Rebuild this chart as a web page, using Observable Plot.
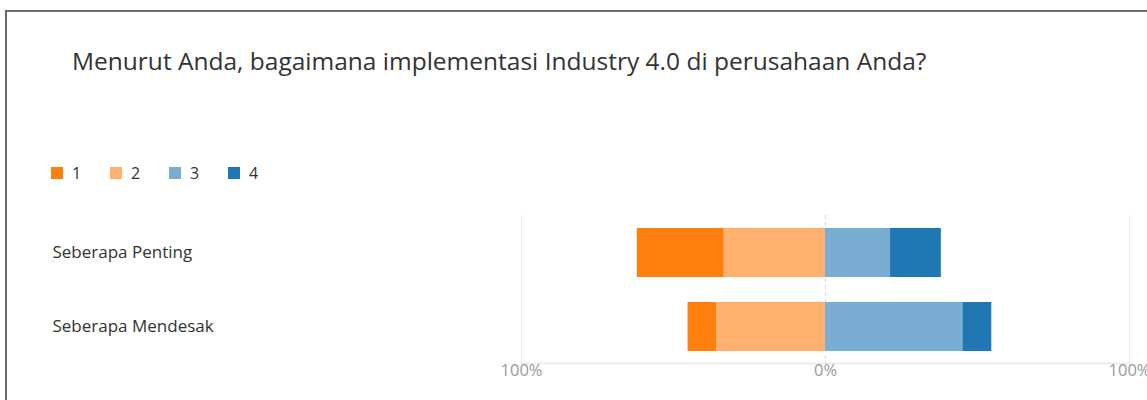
<!DOCTYPE html>
<html>
<head>
<meta charset="utf-8">
<script src="https://cdn.jsdelivr.net/npm/d3@7"></script>
<script src="https://cdn.jsdelivr.net/npm/@observablehq/plot@0.6"></script>
<style>
  html, body { margin: 0; padding: 0; width: 1147px; height: 400px; overflow: hidden; background: #fff; }
  body { position: relative; font-family: "Segoe UI", "Open Sans", "Noto Sans", sans-serif; }
  #frame { position: absolute; left: 5px; top: 10px; width: 1200px; height: 500px; border: 2px solid #6b6b6b; box-sizing: border-box; }
  #title { position: absolute; left: 72px; top: 49px; font-size: 24.5px; line-height: 1; color: #333; white-space: nowrap; }
  #legend { position: absolute; left: 51px; top: 163px; display: flex; font-size: 16px; line-height: 20px; color: #333; }
  .item { display: flex; align-items: center; width: 59px; }
  .sw { width: 12px; height: 12px; margin-right: 9px; }
  #chart { position: absolute; left: 0; top: 200px; }
</style>
</head>
<body>
<div id="frame"></div>
<div id="title">Menurut Anda, bagaimana implementasi Industry 4.0 di perusahaan Anda?</div>
<div id="legend"></div>
<div id="chart"></div>
<script>
const questions = ["Seberapa Penting", "Seberapa Mendesak"];
const keys = ["1", "2", "3", "4"];
const penting = [28.6, 33.3, 21.4, 16.7];
const mendesak = [9.5, 35.7, 45.2, 9.5];
const colors = ["#ff7f0e", "#ffb06e", "#7aadd3", "#1f77b4"];
const ticks = [-100, 0, 100];

const series = [penting, mendesak];
const data = [];
questions.forEach((q, i) => {
  keys.forEach((k, j) => {
    const val = series[i][j];
    data.push({q, k, v: (k === "1" || k === "2") ? -val : val});
  });
});

const legend = document.getElementById("legend");
keys.forEach((k, j) => {
  const it = document.createElement("div");
  it.className = "item";
  const sw = document.createElement("div");
  sw.className = "sw";
  sw.style.background = colors[j];
  const lb = document.createElement("span");
  lb.textContent = k;
  it.appendChild(sw);
  it.appendChild(lb);
  legend.appendChild(it);
});

const chart = Plot.plot({
  width: 1147,
  height: 200,
  marginLeft: 521,
  marginRight: 18,
  marginTop: 15,
  marginBottom: 37,
  x: {domain: [-100, 100]},
  y: {domain: questions, paddingInner: 0.338, paddingOuter: 0.169},
  color: {domain: keys, range: colors},
  style: {fontFamily: "'Segoe UI', 'Open Sans', 'Noto Sans', sans-serif", background: "transparent"},
  marks: [
    Plot.ruleX([-100, 100], {stroke: "#ececec", strokeWidth: 1.5}),
    Plot.ruleX([0], {stroke: "#e2e2e2", strokeWidth: 1.5, strokeDasharray: "4,3"}),
    Plot.frame({anchor: "bottom", stroke: "#e8e8e8", strokeWidth: 1.5}),
    Plot.barX(data, {x: "v", y: "q", fill: "k", order: ["2", "1", "3", "4"]}),
    Plot.axisX({ticks, tickFormat: d => Math.abs(d) + "%", tickSize: 0, tickPadding: 1, fontSize: 16.5, color: "#999", label: null}),
    Plot.axisY({tickSize: 0, tickPadding: 0, textAnchor: "start", dx: -469, fontSize: 17, color: "#333", label: null})
  ]
});
document.getElementById("chart").appendChild(chart);
</script>
</body>
</html>
